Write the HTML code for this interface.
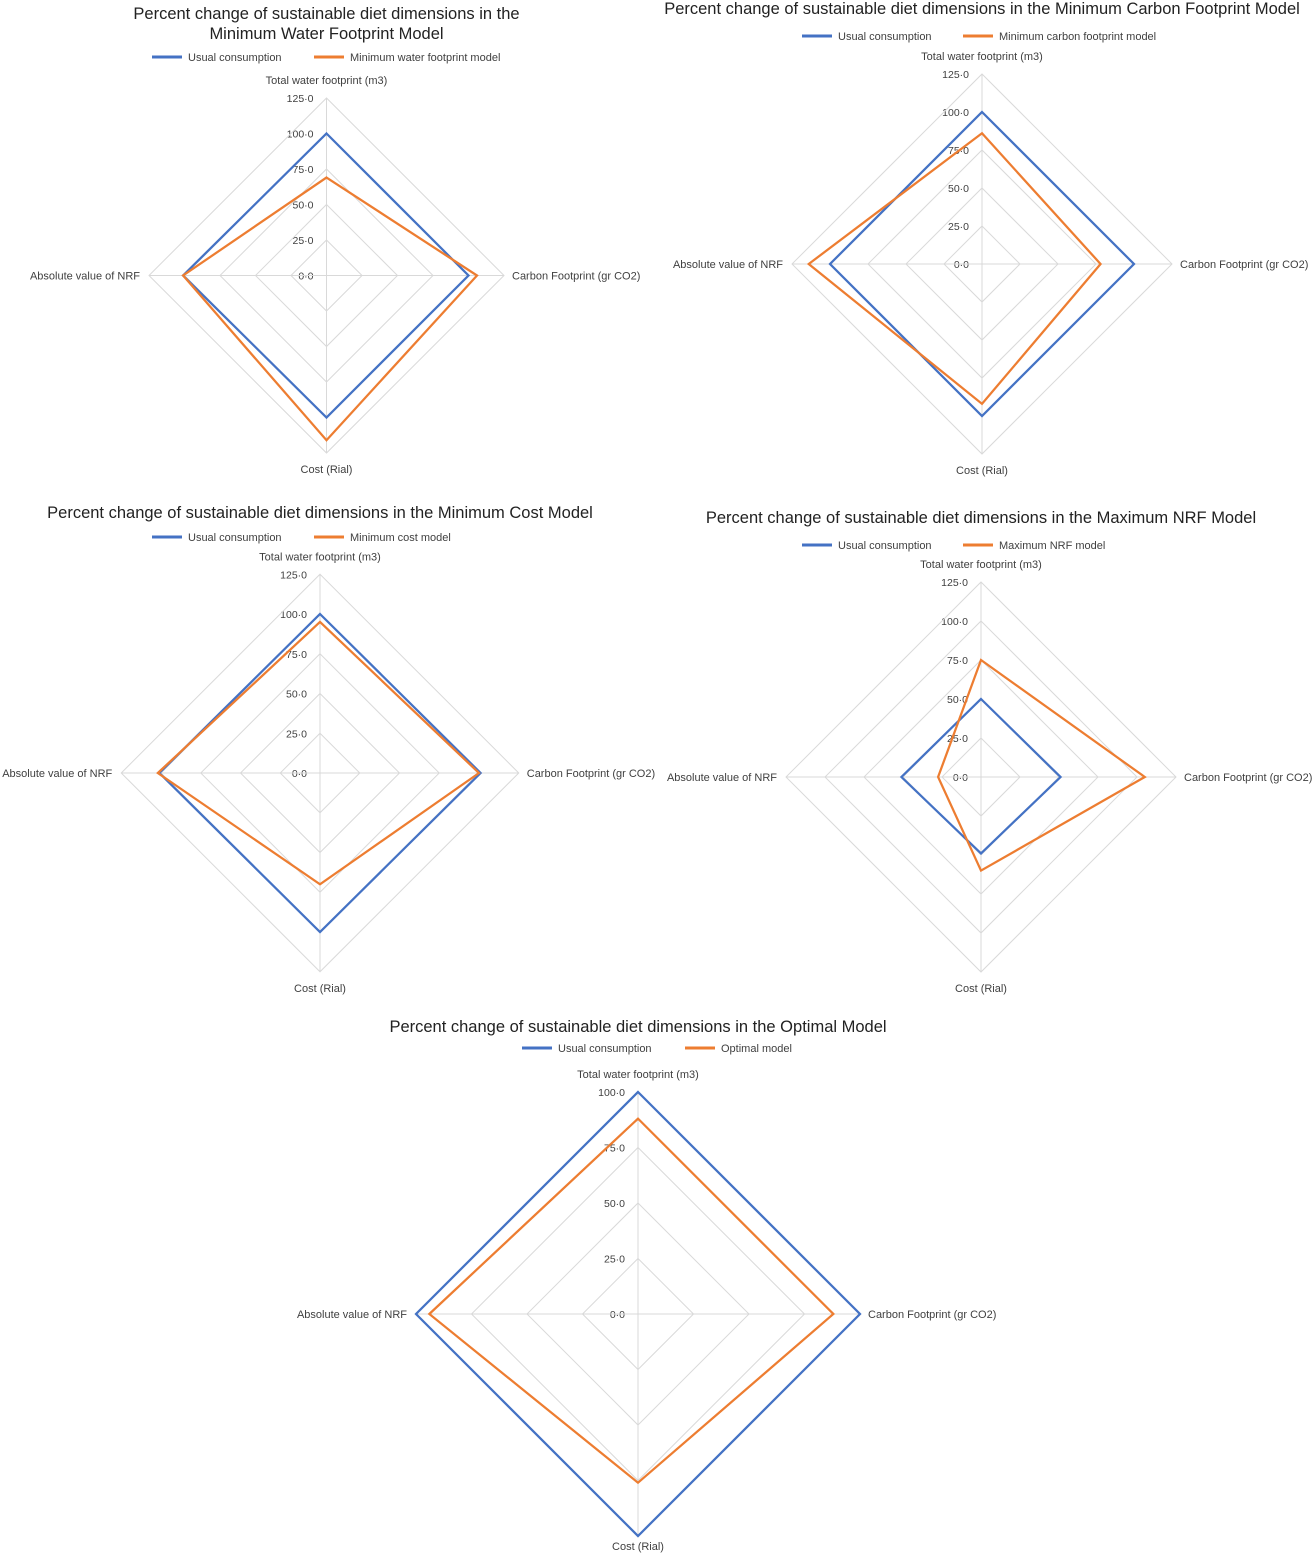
<!DOCTYPE html>
<html><head><meta charset="utf-8"><style>
body{margin:0;background:#fff;}
svg{display:block;font-family:"Liberation Sans",sans-serif;}
</style></head><body>
<svg id="s" width="1316" height="1554" viewBox="0 0 1316 1554" xmlns="http://www.w3.org/2000/svg"></svg>
<script>
const axes = ["Total water footprint (m3)","Carbon Footprint (gr CO2)","Cost (Rial)","Absolute value of NRF"];
const c1Usual = [100,100,100,101];
const c1Model = [69,106,116,101];
const c2Usual = [100,100,100,100];
const c2Model = [86,78,92,114];
const c3Usual = [100,101,100,101];
const c3Model = [95,100,70,102];
const c4Usual = [50,51,49,51];
const c4Model = [75,105,60,27.5];
const c5Usual = [100,100,100,100];
const c5Model = [88,88,76,94];
const ticks125 = [0,25,50,75,100,125];
const ticks100 = [0,25,50,75,100];
const tickLabels125 = ["0·0","25·0","50·0","75·0","100·0","125·0"];
const tickLabels100 = ["0·0","25·0","50·0","75·0","100·0"];

const NS="http://www.w3.org/2000/svg";
const svg=document.getElementById('s');
function mk(tag,attrs,parent){const e=document.createElementNS(NS,tag);for(const k in attrs)e.setAttribute(k,attrs[k]);(parent||svg).appendChild(e);return e;}
function txt(parent,x,y,s,size,anchor,fill){const t=mk('text',{x:x,y:y,'font-size':size,'text-anchor':anchor||'middle',fill:fill||'#404040'},parent);t.textContent=s;return t;}

function chart(o){
  const g=mk('g',{});
  
  
  const cx=o.cx,cy=o.cy,k=o.k;
  const pt=(i,v)=>{const r=v*k;return [[cx,cy-r],[cx+r,cy],[cx,cy+r],[cx-r,cy]][i];};
  o.titles.forEach((t,i)=>{const e=txt(g,cx+(o.tdx||0),o.ty+i*20,t,16.5,'middle','#222');
    
    });
  [[o.lg[0],'#4472C4','Usual consumption'],[o.lg[1],'#ED7D31',o.modelName]].forEach(([x,c,l])=>{
    const lg=mk('g',{},g);
    
    
    mk('line',{x1:x,y1:o.ly,x2:x+30,y2:o.ly,stroke:c,'stroke-width':3},lg);
    txt(lg,x+36,o.ly+4,l,11,'start','#404040');
  });
  const ticks=o.ticks,labels=o.labels;
  ticks.forEach((t,i)=>{
    if(t>0){const p=[0,1,2,3].map(a=>pt(a,t).join(',')).join(' ');
      const ring=mk('polygon',{points:p,fill:'none',stroke:'#d9d9d9','stroke-width':1},g);
      
      }
    const tl=txt(g,cx-13,cy-t*k+4,labels[i],10.5,'end','#404040');
    
    
  });
  const mx=ticks[ticks.length-1];
  [0,1,2,3].forEach(a=>{const [x,y]=pt(a,mx);
    const ax=mk('line',{x1:cx,y1:cy,x2:x,y2:y,stroke:'#d9d9d9','stroke-width':1},g);
    
    });
  const R=mx*k;
  const al=[[cx,cy-R-14,'middle'],[cx+R+8,cy+4,'start'],[cx,cy+R+(o.bo||20),'middle'],[cx-R-9,cy+4,'end']];
  al.forEach((p,i)=>{const e=txt(g,p[0],p[1],axes[i],11,p[2],'#404040');
    
    });
  [[o.u,'#4472C4','series-usual'],[o.m,'#ED7D31','series-model']].forEach(([vals,c,n])=>{
    const p=vals.map((v,i)=>pt(i,v).join(',')).join(' ');
    const s=mk('polygon',{points:p,fill:'none',stroke:c,'stroke-width':2.25,'stroke-linejoin':'miter'},g);
    
    
  });
}
chart({name:'min-water-chart',cx:326.5,cy:275.5,k:1.42,ticks:ticks125,labels:tickLabels125,u:c1Usual,m:c1Model,
  titles:['Percent change of sustainable diet dimensions in the','Minimum Water Footprint Model'],ty:19,ly:57,lg:[152,314],modelName:'Minimum water footprint model'});
chart({name:'min-carbon-chart',cx:982,cy:264,k:1.52,ticks:ticks125,labels:tickLabels125,u:c2Usual,m:c2Model,
  titles:['Percent change of sustainable diet dimensions in the Minimum Carbon Footprint Model'],ty:14,ly:36,lg:[802,963],modelName:'Minimum carbon footprint model'});
chart({name:'min-cost-chart',cx:320,cy:773,k:1.59,ticks:ticks125,labels:tickLabels125,u:c3Usual,m:c3Model,
  titles:['Percent change of sustainable diet dimensions in the Minimum Cost Model'],ty:518,ly:537,lg:[152,314],modelName:'Minimum cost model'});
chart({name:'max-nrf-chart',cx:981,cy:777,k:1.56,ticks:ticks125,labels:tickLabels125,u:c4Usual,m:c4Model,
  titles:['Percent change of sustainable diet dimensions in the Maximum NRF Model'],ty:523,ly:545,lg:[802,963],modelName:'Maximum NRF model'});
chart({name:'optimal-chart',cx:638,cy:1314,k:2.22,bo:14,ticks:ticks100,labels:tickLabels100,u:c5Usual,m:c5Model,
  titles:['Percent change of sustainable diet dimensions in the Optimal Model'],ty:1032,ly:1048,lg:[522,685],modelName:'Optimal model'});
</script>
</body></html>
